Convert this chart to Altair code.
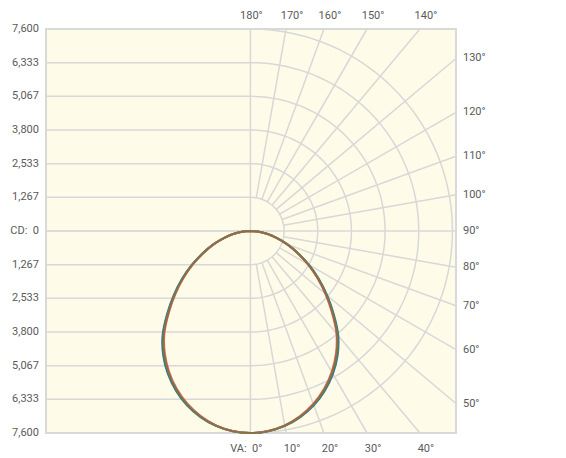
import altair as alt
import pandas as pd

# ---------------- data ----------------
CD_MAX = 7600
X_MIN, X_MAX = -7690, 7735          # horizontal extent of the diagram (cd)

cd_ticks = [7600, 6333.33, 5066.67, 3800, 2533.33, 1266.67, 0,
            -1266.67, -2533.33, -3800, -5066.67, -6333.33, -7600]
cd_labels = ["7,600", "6,333", "5,067", "3,800", "2,533", "1,267", "CD:\u00a0 0",
             "1,267", "2,533", "3,800", "5,067", "6,333", "7,600"]
ring_values = [1266.67, 2533.33, 3800, 5066.67, 6333.33, 7600]
radial_angles = [10, 20, 30, 40, 50, 60, 70, 80, 100, 110, 120, 130, 140, 150, 160, 170]

top_angles = [170, 160, 150, 140]
top_labels = ["170°", "160°", "150°", "140°"]
right_angles = [130, 120, 110, 100, 90, 80, 70, 60, 50]
right_labels = ["130°", "120°", "110°", "100°", "90°", "80°", "70°", "60°", "50°"]
bottom_angles = [10, 20, 30, 40]
bottom_labels = ["10°", "20°", "30°", "40°"]

# vertical angle (0 = straight down) and luminous intensity (cd) per C-plane
va = [0, 5, 10, 15, 20, 25, 30, 35, 40, 45, 50, 55, 60, 65, 70, 75, 80, 85, 90]
planes = ["C0-C180", "C45-C225", "C135-C315", "C90-C270"]
plane_colors = ["#3f6fd6", "#2f8f3c", "#ee6f7c", "#8a7044"]
cd_c0 = [7600, 7562, 7448, 7250, 6980, 6630, 6210, 5720, 5145, 4440, 3770, 3140, 2540, 1980, 1505, 1045, 668, 324, 0]
cd_c45 = [7600, 7560, 7441, 7238, 6962, 6606, 6180, 5685, 5108, 4405, 3740, 3115, 2520, 1965, 1492, 1038, 664, 322, 0]
cd_c135 = [7600, 7555, 7425, 7210, 6918, 6552, 6115, 5612, 5032, 4335, 3680, 3065, 2480, 1935, 1468, 1022, 655, 318, 0]
cd_c90 = [7600, 7558, 7434, 7225, 6941, 6580, 6148, 5648, 5070, 4370, 3710, 3090, 2500, 1950, 1480, 1030, 660, 320, 0]
plane_values = [cd_c0, cd_c45, cd_c135, cd_c90]

# ---------------- tables ----------------
curve_rows = []
for name, vals in zip(planes, plane_values):
    for side in (-1, 1):
        for a, v in zip(va, vals):
            if side == -1 and a == 0:
                continue          # the nadir point is shared by both halves
            curve_rows.append({"plane": name, "va": a, "cd": v, "side": side})
curve_df = pd.DataFrame(curve_rows)

arc_df = pd.DataFrame([{"ring": r, "a": a} for r in ring_values for a in range(0, 181, 2)])
radial_df = pd.DataFrame({"a": radial_angles})
hline_df = pd.DataFrame({"v": cd_ticks, "label": cd_labels})
zero_df = pd.DataFrame({"v": [0]})
top_df = pd.DataFrame({"a": top_angles, "label": top_labels})
right_df = pd.DataFrame({"a": right_angles, "label": right_labels})
bottom_df = pd.DataFrame({"a": bottom_angles, "label": bottom_labels})
top0_df = pd.DataFrame({"a": [180], "label": ["180°"]})
bottom0_df = pd.DataFrame({"a": [0], "label": ["VA:\u00a0 0°"]})

# ---------------- scales ----------------
xs = alt.Scale(domain=[X_MIN, X_MAX], nice=False, zero=False)
ys = alt.Scale(domain=[-CD_MAX, CD_MAX], nice=False, zero=False)
GRID = "#d8d8d8"
TXT = "#5a5a5a"
FONT = "Roboto"


def X(field):
    return alt.X(field, type="quantitative", scale=xs, axis=None)


def Y(field):
    return alt.Y(field, type="quantitative", scale=ys, axis=None)


# left half: horizontal grid lines
hlines = alt.Chart(hline_df).transform_calculate(
    x0=f"{X_MIN}", x1="0"
).mark_rule(color=GRID, strokeWidth=1.5).encode(
    x=X("x0"), x2="x1:Q", y=Y("v"),
)

# right half: concentric arcs
arcs = alt.Chart(arc_df).transform_calculate(
    x="datum.ring * sin(datum.a * PI / 180)",
    y="-datum.ring * cos(datum.a * PI / 180)",
).mark_line(color=GRID, strokeWidth=1.5).encode(
    x=X("x"), y=Y("y"), detail="ring:N", order="a:Q"
)

# radial lines from the first ring to the frame
radials = alt.Chart(radial_df).transform_calculate(
    s="sin(datum.a * PI / 180)", c="cos(datum.a * PI / 180)"
).transform_calculate(
    t=f"min({X_MAX} / datum.s, {CD_MAX} / abs(datum.c))"
).transform_calculate(
    x0=f"{ring_values[0]} * datum.s", y0=f"-{ring_values[0]} * datum.c",
    x1="datum.t * datum.s", y1="-datum.t * datum.c",
).mark_rule(color=GRID, strokeWidth=1.5).encode(
    x=X("x0"), y=Y("y0"), x2="x1:Q", y2="y1:Q"
)

vline = alt.Chart(zero_df).mark_rule(color=GRID, strokeWidth=1.5).encode(x=X("v"))
hline0 = alt.Chart(zero_df).mark_rule(color=GRID, strokeWidth=1.5).encode(y=Y("v"))

# intensity curves
curves = alt.Chart(curve_df).transform_calculate(
    x="datum.side * datum.cd * sin(datum.va * PI / 180)",
    y="-datum.cd * cos(datum.va * PI / 180)",
    t="datum.side * datum.va",
).mark_line(strokeWidth=2, interpolate="catmull-rom").encode(
    x=X("x"), y=Y("y"),
    color=alt.Color("plane:N", scale=alt.Scale(domain=planes, range=plane_colors), legend=None),
    order="t:Q",
)

text_kw = dict(font=FONT, fontSize=11, color=TXT, baseline="middle")

left_text = alt.Chart(hline_df).transform_calculate(
    x=f"{X_MIN}"
).mark_text(dx=-7, align="right", **text_kw).encode(x=X("x"), y=Y("v"), text="label:N")

top_text = alt.Chart(top_df).transform_calculate(
    x=f"{CD_MAX} * tan((180 - datum.a) * PI / 180)", y=f"{CD_MAX}"
).mark_text(dx=6, dy=-13, align="center", **text_kw).encode(x=X("x"), y=Y("y"), text="label:N")

top0_text = alt.Chart(top0_df).transform_calculate(
    x="0", y=f"{CD_MAX}"
).mark_text(dx=1, dy=-13, align="center", **text_kw).encode(x=X("x"), y=Y("y"), text="label:N")

right_text = alt.Chart(right_df).transform_calculate(
    x=f"{X_MAX}", y=f"-{X_MAX} / tan(datum.a * PI / 180)"
).mark_text(dx=7, align="left", **text_kw).encode(x=X("x"), y=Y("y"), text="label:N")

bottom_text = alt.Chart(bottom_df).transform_calculate(
    x=f"{CD_MAX} * tan(datum.a * PI / 180)", y=f"-{CD_MAX}"
).mark_text(dx=6, dy=16, align="center", **text_kw).encode(x=X("x"), y=Y("y"), text="label:N")

bottom0_text = alt.Chart(bottom0_df).transform_calculate(
    x="0", y=f"-{CD_MAX}"
).mark_text(dx=12, dy=16, align="right", **text_kw).encode(x=X("x"), y=Y("y"), text="label:N")

chart = alt.layer(
    hlines, arcs, radials, vline, hline0, curves,
    left_text, top_text, top0_text, right_text, bottom_text, bottom0_text,
).properties(
    width=410, height=404,
    padding={"left": 38, "top": 21, "right": 100, "bottom": 24},
    autosize=alt.AutoSizeParams(type="none"),
    background="white",
).configure_view(
    fill="#fefce8", stroke="#d9d9d9", strokeWidth=2
)

chart.save("out.html", embed_options={"renderer": "svg", "actions": False})
